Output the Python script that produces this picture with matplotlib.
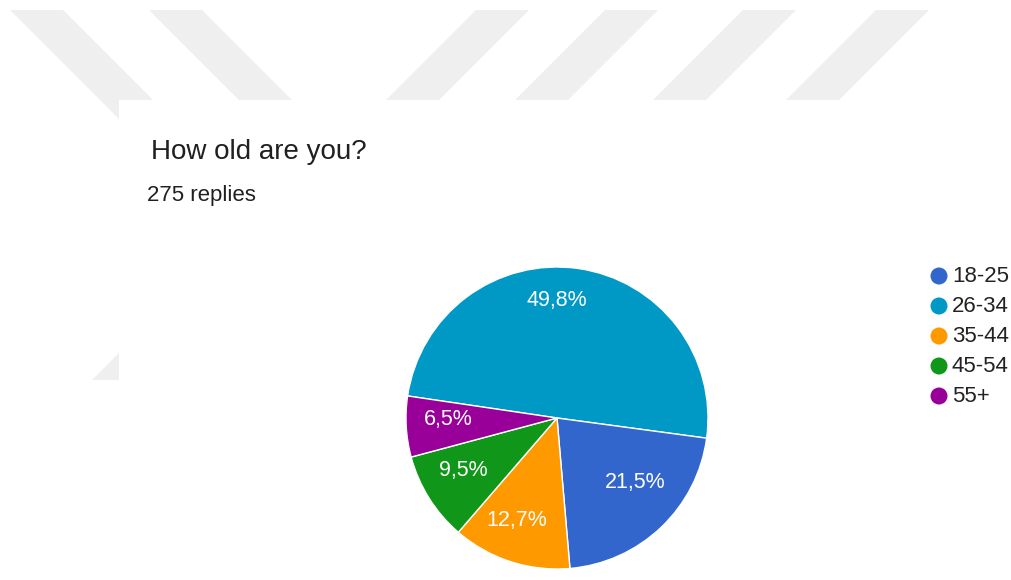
import matplotlib.pyplot as plt
from matplotlib.patches import Polygon, Rectangle, Circle
import numpy as np

plt.rcParams['font.family'] = ['Liberation Sans', 'DejaVu Sans']

# data (legend order)
categories = ['18-25', '26-34', '35-44', '45-54', '55+']
shares = [21.5, 49.8, 12.7, 9.5, 6.5]
labels = ['21,5%', '49,8%', '12,7%', '9,5%', '6,5%']
colors = ['#3366cc', '#0099c6', '#ff9900', '#109618', '#990099']
title = 'How old are you?'
subtitle = '275 replies'

# slices are drawn largest first, clockwise
order = [1, 0, 2, 3, 4]

W, H = 1011, 580
fig = plt.figure(figsize=(W / 100, H / 100), dpi=100)

# background in pixel coordinates
bg = fig.add_axes([0, 0, 1, 1])
bg.set_xlim(0, W)
bg.set_ylim(H, 0)
bg.axis('off')

# watermark stripes (top band: x of left edge at y=10, direction)
stripe_w = 53
for x0, d in [(10, 1), (149, 1), (476, -1), (605, -1), (743, -1), (876, -1)]:
    y0, y1 = 10, 200
    pts = [(x0, y0), (x0 + stripe_w, y0),
           (x0 + stripe_w + d * (y1 - y0), y1), (x0 + d * (y1 - y0), y1)]
    bg.add_patch(Polygon(pts, closed=True, color='#efefef', lw=0, zorder=1))
# lower band piece on the left
y0, y1 = 290, 380
pts = [(92 + (y1 - y0), y0), (92 + stripe_w + (y1 - y0), y0),
       (92 + stripe_w, y1), (92, y1)]
bg.add_patch(Polygon(pts, closed=True, color='#efefef', lw=0, zorder=1))

# white card
bg.add_patch(Rectangle((119, 100), W, H, color='white', lw=0, zorder=2))

bg.text(151, 152, title, fontsize=20, color='#202020', va='center',
        ha='left', zorder=3)
bg.text(147, 196, subtitle, fontsize=16, color='#202020', va='center',
        ha='left', zorder=3)

# legend
for i, (cat, col) in enumerate(zip(categories, colors)):
    y = 276 + i * 30
    bg.add_patch(Circle((939, y), 8.5, color=col, lw=0, zorder=3))
    bg.text(952, y, cat, fontsize=16, color='#222222', va='center',
            ha='left', zorder=3)

# pie
cx, cy, r = 557, 418, 151
ax = fig.add_axes([(cx - r) / W, (H - cy - r) / H, 2 * r / W, 2 * r / H])
wedges, _ = ax.pie([shares[i] for i in order],
                   colors=[colors[i] for i in order],
                   startangle=171.6, counterclock=False,
                   wedgeprops=dict(edgecolor='white', linewidth=1))
ax.set_xlim(-1, 1)
ax.set_ylim(-1, 1)
ax.set_aspect('equal')
ax.axis('off')

# label placement: (angle nudge from slice middle in degrees, radius fraction)
label_pos = {0: (6.6, 0.67), 1: (8.0, 0.78), 2: (-3.4, 0.73),
             3: (-2.9, 0.71), 4: (-2.3, 0.72)}
for w, i in zip(wedges, order):
    nudge, lr = label_pos[i]
    mid = np.deg2rad((w.theta1 + w.theta2) / 2 + nudge)
    ax.text(lr * np.cos(mid), lr * np.sin(mid), labels[i], color='white',
            fontsize=15.5, ha='center', va='center')

fig.savefig('out.png', dpi=100)
